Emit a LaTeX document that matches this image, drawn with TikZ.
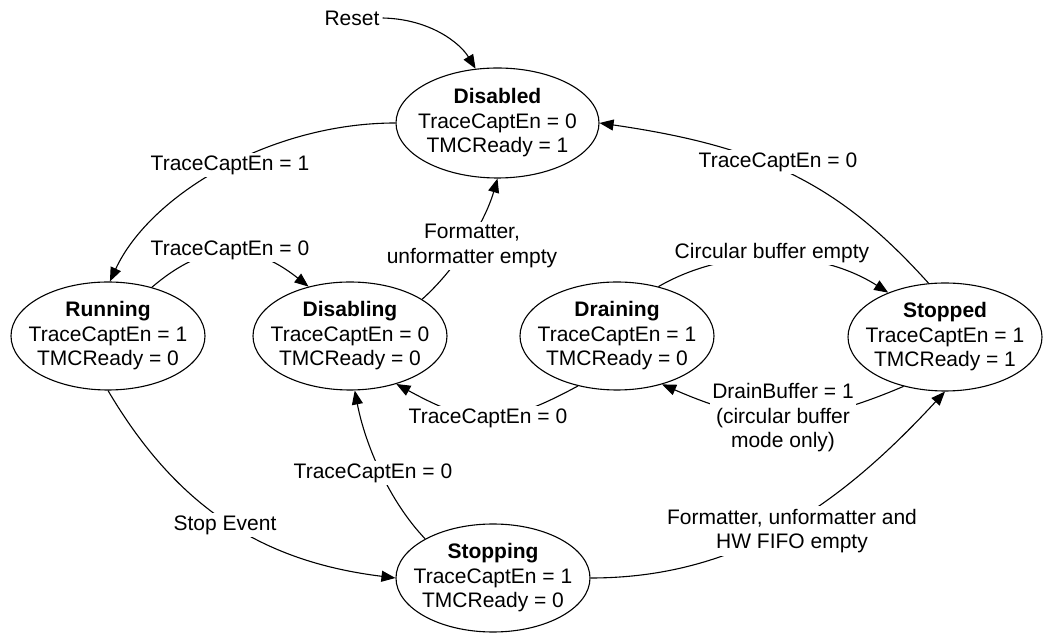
\documentclass[tikz,border=0pt]{standalone}
\usepackage{fontspec}
\setmainfont{Liberation Sans}
\usetikzlibrary{shapes.geometric,arrows.meta}

\begin{document}
\begin{tikzpicture}[x=1pt,y=1pt,
  txt/.style={font=\fontsize{21}{24.5}\selectfont, align=center, inner sep=0pt},
  state/.style={draw, ellipse, line width=1.1pt, minimum width=194pt, minimum height=108pt, inner sep=0pt},
  trans/.style={line width=1.1pt, -{Triangle[length=14pt,width=11pt]}},
  plain/.style={line width=1.1pt},
  lbl/.style={txt, fill=white, inner sep=2.5pt}
]
\useasboundingbox (0,0) rectangle (1045,635);

% states
\node[state, minimum width=203pt, minimum height=110pt] (dis) at (497.5,512) {};
\node[state] (run) at (108,299) {};
\node[state] (dsg) at (350,299) {};
\node[state] (drn) at (617,299) {};
\node[state] (stp) at (945,298) {};
\node[state] (sto) at (493,57) {};

\node[txt] (dis-t) at (dis) {\textbf{Disabled}\\TraceCaptEn = 0\\TMCReady = 1};
\node[txt] (run-t) at (run) {\textbf{Running}\\TraceCaptEn = 1\\TMCReady = 0};
\node[txt] (dsg-t) at (dsg) {\textbf{Disabling}\\TraceCaptEn = 0\\TMCReady = 0};
\node[txt] (drn-t) at (drn) {\textbf{Draining}\\TraceCaptEn = 1\\TMCReady = 0};
\node[txt] (stp-t) at (stp) {\textbf{Stopped}\\TraceCaptEn = 1\\TMCReady = 1};
\node[txt] (sto-t) at (sto) {\textbf{Stopping}\\TraceCaptEn = 1\\TMCReady = 0};

\node[txt, inner sep=3pt] (reset) at (352,617) {Reset};

% transitions
\draw[trans] (reset.east) .. controls (430,616) and (460,592) .. (dis.112);
\draw[trans] (dis.180) .. controls (270,512) and (150,440) .. (run.88);
\draw[trans] (run.48) .. controls (206,394) and (251,394) .. (dsg.130);
\draw[trans] (dsg.27) .. controls (456,366) and (485,413) .. (dis.270);
\draw[trans] (stp.107) .. controls (841,449) and (766,488) .. (dis.0);
\draw[trans] (drn.50) .. controls (727,388) and (818,387) .. (stp.142);
\draw[trans] (drn.232) .. controls (502,208) and (475,208) .. (dsg.314);
\draw[trans] (stp.230) .. controls (808,208) and (760,208) .. (drn.313);
\draw[trans] (run.270) .. controls (179,124) and (266,73) .. (sto.180);
\draw[trans] (sto.150) .. controls (389,134) and (365,191) .. (dsg.275);
\draw[trans] (sto.0) .. controls (741,57) and (843,133) .. (stp.270);

% transition labels
\node[lbl] (l1) at (230,470) {TraceCaptEn = 1};
\node[lbl] (l2) at (230,385) {TraceCaptEn = 0};
\node[lbl] (l3) at (472,389) {Formatter,\\unformatter empty};
\node[lbl] (l4) at (778,473) {TraceCaptEn = 0};
\node[lbl] (l5) at (772,382) {Circular buffer empty};
\node[lbl] (l6) at (488,217) {TraceCaptEn = 0};
\node[lbl] (l7) at (783,217) {DrainBuffer = 1\\(circular buffer\\mode only)};
\node[lbl] (l8) at (225,110) {Stop Event};
\node[lbl] (l9) at (373,162) {TraceCaptEn = 0};
\node[lbl] (l10) at (792,104) {Formatter, unformatter and\\HW FIFO empty};
\end{tikzpicture}
\end{document}
